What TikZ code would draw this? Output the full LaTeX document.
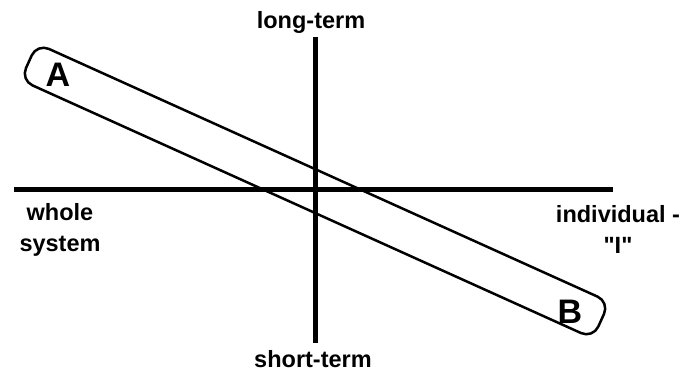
\documentclass[tikz,border=0pt]{standalone}
\usepackage{fontspec}
\setmainfont{Liberation Sans}
\usepackage{tikz}
\usetikzlibrary{positioning}
\tikzset{
  axislabel/.style={font=\bfseries\fontsize{23.5}{31}\selectfont,align=center,inner sep=0pt},
  endlabel/.style={font=\bfseries\fontsize{34}{36}\selectfont,inner sep=0pt},
}

\begin{document}
\begin{tikzpicture}[x=1pt,y=-1pt]
  \useasboundingbox (0,0) rectangle (688,371);
  \coordinate (west) at (14,190);
  \coordinate (east) at (613,190);
  \coordinate (north) at (315,37);
  \coordinate (south) at (315,343);
  \draw[line width=5pt] (west)--(east);
  \draw[line width=5pt] (north)--(south);
  \node[draw,line width=2.5pt,rounded corners=13pt,rotate=-24.3,minimum width=628pt,minimum height=40pt,inner sep=0pt] (pill) at (315,191) {};
  \node[endlabel] (a) at (58,75) {A};
  \node[endlabel] (b) at (570,312) {B};
  \node[axislabel,anchor=base] (long) at (311,29) {long-term};
  \node[axislabel,anchor=base] (short) at (313,367) {short-term};
  \node[axislabel] (whole) at (60,230) {whole\\system};
  \node[axislabel] (indiv) at (618,229) {individual -\\\textquotedbl I\textquotedbl};
\end{tikzpicture}
\end{document}
